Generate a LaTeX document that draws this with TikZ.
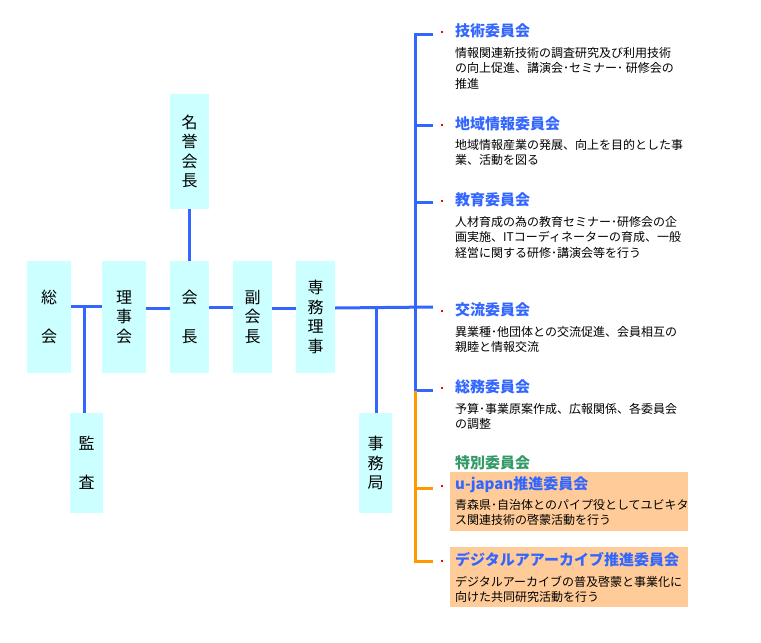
\documentclass[tikz,border=0pt]{standalone}
\usepackage{fontspec}
\setmainfont{Noto Sans CJK JP}
\usetikzlibrary{positioning}

\definecolor{boxcyan}{HTML}{CCFFFF}
\definecolor{linkblue}{HTML}{3366FF}
\definecolor{linkorange}{HTML}{FF9900}
\definecolor{boxpeach}{HTML}{FFCC99}
\definecolor{titlegreen}{HTML}{339966}

\begin{document}
\begin{tikzpicture}[x=1pt,y=-1pt,
  box/.style={fill=boxcyan,inner sep=0pt,align=center,minimum height=112pt,
    font=\fontsize{16}{19.5}\selectfont},
  link/.style={draw=linkblue,line width=3pt},
  linko/.style={draw=linkorange,line width=3pt},
  ttl/.style={anchor=west,inner sep=0pt,text=linkblue,
    font=\fontsize{15}{17}\selectfont\bfseries},
  desc/.style={anchor=north west,inner sep=0pt,align=left,
    font=\fontsize{12}{15.5}\selectfont},
  reddot/.style={fill=red,inner sep=0pt,minimum size=2pt},
  peach/.style={fill=boxpeach,inner sep=0pt,minimum width=238pt,minimum height=59pt}]
\useasboundingbox (0,0) rectangle (761,643);

% left part of the chart
\node[box,minimum width=44pt] (sokai) at (49,317) {総\\　\\会};
\node[box,minimum width=44pt] (rijikai) at (124,317) {理\\事\\会};
\node[box,minimum width=39pt] (kaicho) at (189.5,317) {会\\　\\長};
\node[box,minimum width=39pt] (fukukaicho) at (252.5,317) {副\\会\\長};
\node[box,minimum width=39pt] (senmu) at (315.5,317) {専\\務\\理\\事};
\node[box,minimum width=39pt,minimum height=115pt] (meiyo) at (189.5,151.5) {名\\誉\\会\\長};
\node[box,minimum width=33pt,minimum height=100pt] (kansa) at (86.5,463) {監\\　\\査};
\node[box,minimum width=33pt,minimum height=100pt] (jimukyoku) at (375.5,463) {事\\務\\局};

\coordinate (j1) at (84,306);
\coordinate (j2) at (376,308);
\draw[link] ([yshift=11pt]sokai.east) -- ([yshift=11pt]rijikai.west);
\draw[link] (j1) -- (j1 |- kansa.north);
\draw[link] ([yshift=9pt]rijikai.east) -- ([yshift=9pt]kaicho.west);
\draw[link] (meiyo.south) -- (kaicho.north);
\draw[link] ([yshift=10pt]kaicho.east) -- ([yshift=10pt]fukukaicho.west);
\draw[link] ([yshift=9pt]fukukaicho.east) -- ([yshift=9pt]senmu.west);
\draw[link] (j2) -- (j2 |- jimukyoku.north);

% committees
\coordinate (mid) at (415,391);
\coordinate (b1) at (433,34);
\coordinate (b2) at (433,125);
\coordinate (b3) at (433,202);
\coordinate (b4) at (433,307);
\coordinate (b5) at (433,390);
\coordinate (b6) at (433,488);
\coordinate (b7) at (433,561);
\draw[link] (b1) -| (mid);
\draw[link] (b2) -- (b2 -| mid);
\draw[link] (b3) -- (b3 -| mid);
\draw[link] ([yshift=9pt]senmu.east) -- (b4);
\draw[link] (b5) -- (b5 -| mid);
\draw[linko] (b7) -| (mid);
\draw[linko] (b6) -- (b6 -| mid);

\node[peach] (ujbox) at (569,501.5) {};
\node[peach,minimum height=60pt] (dabox) at (569,577) {};

\node[reddot] (d1) at (442,32) {};
\node[ttl] (gijutsu) at (455,31) {技術委員会};
\node[desc] (gijutsu-t) at (455,47) {情報関連新技術の調査研究及び利用技術\\の向上促進、講演会･セミナー･ 研修会の\\推進};

\node[reddot] (d2) at (442,125) {};
\node[ttl] (chiiki) at (455,124) {地域情報委員会};
\node[desc] (chiiki-t) at (455,139) {地域情報産業の発展、向上を目的とした事\\業、活動を図る};

\node[reddot] (d3) at (442,201) {};
\node[ttl] (kyoiku) at (455,200) {教育委員会};
\node[desc] (kyoiku-t) at (455,216) {人材育成の為の教育セミナー･研修会の企\\画実施、ITコーディネーターの育成、一般\\経営に関する研修･講演会等を行う};

\node[reddot] (d4) at (442,311) {};
\node[ttl] (koryu) at (455,310) {交流委員会};
\node[desc] (koryu-t) at (455,326) {異業種･他団体との交流促進、会員相互の\\親睦と情報交流};

\node[reddot] (d5) at (442,388) {};
\node[ttl] (somu) at (455,387) {総務委員会};
\node[desc] (somu-t) at (455,403) {予算･事業原案作成、広報関係、各委員会\\の調整};

\node[ttl,text=titlegreen] (tokubetsu) at (455,463) {特別委員会};

\node[reddot] (d6) at (442,486) {};
\node[ttl] (ujapan) at (455,485) {u-japan推進委員会};
\node[desc] (ujapan-t) at (455,499) {青森県･自治体とのパイプ役としてユビキタ\\ス関連技術の啓蒙活動を行う};

\node[reddot] (d7) at (442,561) {};
\node[ttl] (digital) at (455,560) {デジタルアアーカイブ推進委員会};
\node[desc] (digital-t) at (455,576) {デジタルアーカイブの普及啓蒙と事業化に\\向けた共同研究活動を行う};
\end{tikzpicture}
\end{document}
